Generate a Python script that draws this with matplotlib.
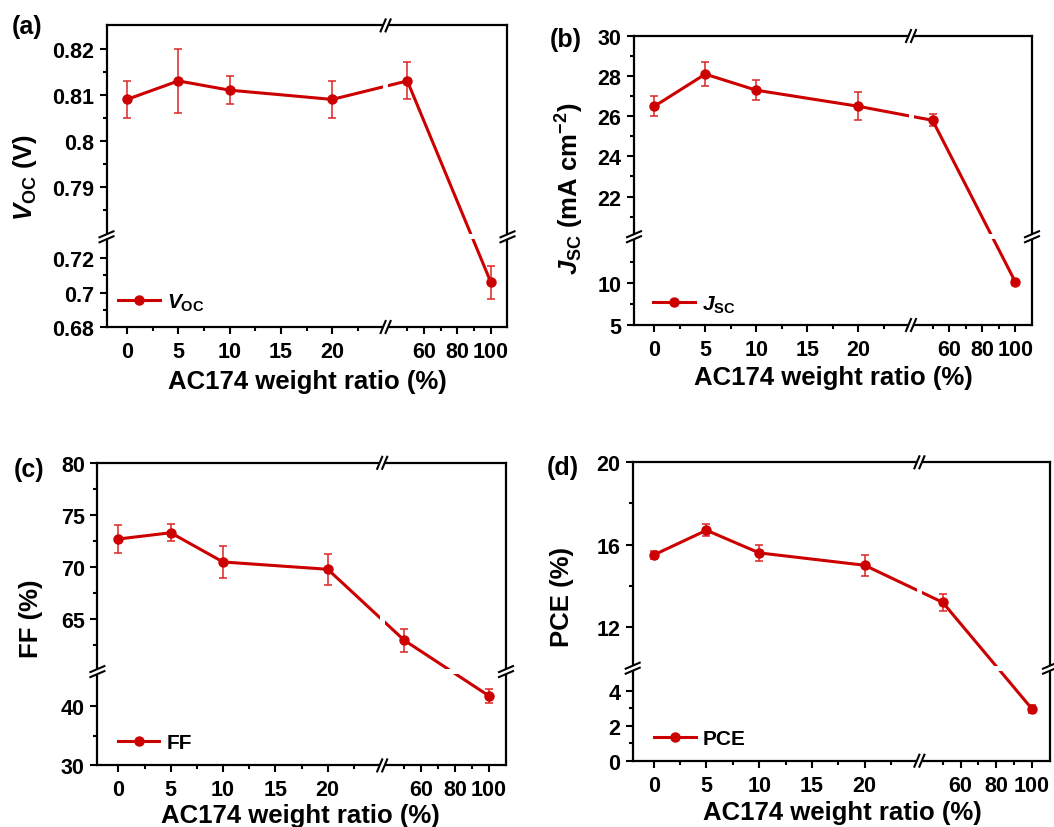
import matplotlib
matplotlib.use('Agg')
import matplotlib.pyplot as plt
from matplotlib.patches import Rectangle
import numpy as np

plt.rcParams['font.family'] = ['Liberation Sans', 'DejaVu Sans']
plt.rcParams['font.weight'] = 'bold'
plt.rcParams['axes.labelweight'] = 'bold'
plt.rcParams['mathtext.fontset'] = 'custom'
plt.rcParams['mathtext.rm'] = 'Liberation Sans:bold'
plt.rcParams['mathtext.bf'] = 'Liberation Sans:bold'
plt.rcParams['mathtext.it'] = 'Liberation Sans:bold:italic'

FIG_W, FIG_H = 1054, 828

# AC174 weight ratio (%)
ratio = [0, 5, 10, 20, 50, 100]

voc = [0.809, 0.813, 0.811, 0.809, 0.813, 0.706]
voc_err = [0.004, 0.007, 0.003, 0.004, 0.004, 0.0095]

jsc = [26.5, 28.1, 27.3, 26.5, 25.8, 10.1]
jsc_err = [0.5, 0.6, 0.5, 0.7, 0.3, 0.4]

ff = [72.7, 73.3, 70.5, 69.8, 63.0, 41.7]
ff_err = [1.3, 0.8, 1.5, 1.5, 1.1, 1.2]

pce = [15.5, 16.7, 15.6, 15.0, 13.2, 2.95]
pce_err = [0.18, 0.3, 0.4, 0.5, 0.4, 0.23]

x_ticks = [0, 5, 10, 15, 20, 60, 80, 100]
x_minor = [2.5, 7.5, 12.5, 17.5, 22.5, 50, 70, 90]

voc_ticks = [0.68, 0.70, 0.72, 0.79, 0.80, 0.81, 0.82]
voc_labels = ['0.68', '0.7', '0.72', '0.79', '0.8', '0.81', '0.82']
voc_minor = [0.69, 0.71, 0.785, 0.795, 0.805, 0.815]

jsc_ticks = [5, 10, 22, 24, 26, 28, 30]
jsc_minor = [7.5, 12.5, 21, 23, 25, 27, 29]

ff_ticks = [30, 40, 65, 70, 75, 80]
ff_minor = [35, 62.5, 67.5, 72.5, 77.5]

pce_ticks = [0, 2, 4, 12, 16, 20]
pce_minor = [1, 3, 14, 18]

LINE_C = '#CC0000'
ERR_C = '#DD2525'


def broken_scale(lo, hi, frac):
    # two linear pieces glued at frac of the axis length
    xp = [lo[0], lo[1], hi[0], hi[1]]
    fp = [0.0, frac, frac + 1e-9, 1.0]
    return (lambda v: np.interp(v, xp, fp)), (lambda u: np.interp(u, fp, xp))


def add_breaks(ax, fx, fy):
    bb = ax.get_position()
    W, H = bb.width * FIG_W, bb.height * FIG_H
    gap = 5.0
    kw = dict(transform=ax.transAxes, clip_on=False)
    # x break: white strip through the data, slashes on top/bottom spines
    dx = gap / W
    ax.add_patch(Rectangle((fx - dx / 2, -3 / H), dx, 1 + 6 / H, color='white',
                           lw=0, zorder=5, **kw))
    for y in (0, 1):
        for s in (-1, 1):
            xc = fx + s * dx / 2
            ax.plot([xc - 2.5 / W, xc + 2.5 / W], [y - 6 / H, y + 6 / H],
                    color='black', lw=1.5, zorder=6, **kw)
    # y break
    dy = gap / H
    ax.add_patch(Rectangle((-3 / W, fy - dy / 2), 1 + 6 / W, dy, color='white',
                           lw=0, zorder=5, **kw))
    for x in (0, 1):
        for s in (-1, 1):
            yc = fy + s * dy / 2
            ax.plot([x - 7 / W, x + 7 / W], [yc - 3 / H, yc + 3 / H],
                    color='black', lw=1.5, zorder=6, **kw)


def panel(box, y, yerr, ylo, yhi, fy, fx, yticks, ylabels, yminor,
          ylabel, legend_label, tag, xlab_pos, ylab_pos, tag_pos, leg_pos):
    l, t, r, b = box
    ax = fig.add_axes([l / FIG_W, 1 - b / FIG_H, (r - l) / FIG_W, (b - t) / FIG_H])

    fwd, inv = broken_scale((-2, 25.2), (37, 110), fx)
    ax.set_xscale('function', functions=(fwd, inv))
    fwd, inv = broken_scale(ylo, yhi, fy)
    ax.set_yscale('function', functions=(fwd, inv))

    ax.errorbar(ratio, y, yerr=yerr, fmt='none', ecolor=ERR_C, elinewidth=1.1,
                capsize=3, capthick=1.1, zorder=2)
    ax.plot(ratio, y, '-o', color=LINE_C, lw=2.2, ms=6.5, label=legend_label, zorder=3)

    ax.set_xlim(-2, 110)
    ax.set_ylim(ylo[0], yhi[1])
    ax.set_xticks(x_ticks, [str(v) for v in x_ticks])
    ax.set_xticks(x_minor, minor=True)
    ax.set_yticks(yticks, ylabels)
    ax.set_yticks(yminor, minor=True)
    ax.tick_params(which='both', direction='out', width=1.5, labelsize=15.5,
                   top=False, right=False)
    ax.tick_params(which='major', length=5)
    ax.tick_params(which='minor', length=3)
    ax.tick_params(axis='x', pad=5)
    ax.tick_params(axis='y', pad=4)
    for sp in ax.spines.values():
        sp.set_linewidth(1.6)

    ax.set_xlabel('AC174 weight ratio (%)', fontsize=18.5)
    ax.set_ylabel(ylabel, fontsize=18.5)
    bb = ax.get_position()
    ax.xaxis.set_label_coords((xlab_pos[0] / FIG_W - bb.x0) / bb.width,
                              ((1 - xlab_pos[1] / FIG_H) - bb.y0) / bb.height)
    ax.yaxis.set_label_coords((ylab_pos[0] / FIG_W - bb.x0) / bb.width,
                              ((1 - ylab_pos[1] / FIG_H) - bb.y0) / bb.height)
    ax.xaxis.label.set_va('center')
    ax.yaxis.label.set_va('center')

    fig.text(tag_pos[0] / FIG_W, 1 - tag_pos[1] / FIG_H, tag, fontsize=18,
             fontweight='bold', ha='center', va='center')

    ax.legend(loc='center left', bbox_to_anchor=leg_pos, frameon=False,
              fontsize=15, handlelength=2.0, handletextpad=0.35,
              borderpad=0, borderaxespad=0)

    add_breaks(ax, fx, fy)
    return ax


fig = plt.figure(figsize=(FIG_W / 100, FIG_H / 100), dpi=100)

panel((106.5, 26.4, 507.5, 328), voc, voc_err, (0.68, 0.7323), (0.7793, 0.825),
      0.299, 0.696, voc_ticks, voc_labels, voc_minor,
      r'$V_{\mathrm{OC}}$ (V)', r'$V_{\mathrm{OC}}$', '(a)',
      (307, 382), (25, 177), (27, 27), (0.029, 0.083))

panel((634, 37, 1032, 326), jsc, jsc_err, (5, 15.5), (20, 30),
      0.3055, 0.696, jsc_ticks, [str(v) for v in jsc_ticks], jsc_minor,
      r'$J_{\mathrm{SC}}$ (mA cm$^{\mathbf{-2}}$)', r'$J_{\mathrm{SC}}$', '(b)',
      (833, 378), (570, 189), (566, 40), (0.048, 0.073))

panel((97.4, 463.8, 506, 766.4), ff, ff_err, (30, 45.8), (60, 80),
      0.31, 0.697, ff_ticks, [str(v) for v in ff_ticks], ff_minor,
      'FF (%)', 'FF', '(c)',
      (300, 816), (31, 619), (29, 470), (0.05, 0.075))

panel((632.7, 463.3, 1050, 761.7), pce, pce_err, (0, 5.28), (10, 20),
      0.31, 0.687, pce_ticks, [str(v) for v in pce_ticks], pce_minor,
      'PCE (%)', 'PCE', '(d)',
      (842, 813), (562, 597), (563, 468), (0.051, 0.073))

fig.savefig('out.png', dpi=100)
